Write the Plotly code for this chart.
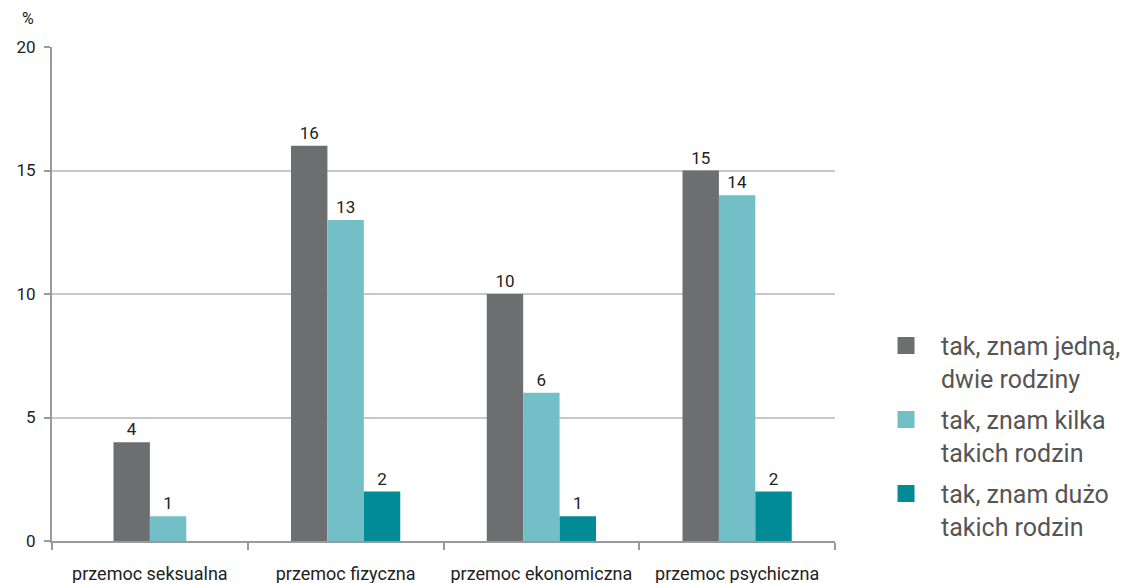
import plotly.graph_objects as go

categories = ["przemoc seksualna", "przemoc fizyczna", "przemoc ekonomiczna", "przemoc psychiczna"]
series_names = ["tak, znam jedną,<br>dwie rodziny", "tak, znam kilka<br>takich rodzin", "tak, znam dużo<br>takich rodzin"]
series_values = [
    [4, 16, 10, 15],
    [1, 13, 6, 14],
    [None, 2, 1, 2],
]
series_colors = ["#6d6e70", "#73bfc7", "#008b96"]
y_ticks = [0, 5, 10, 15, 20]

FONT = "Roboto"
BAR_W = 0.186

fig = go.Figure()

# offsets: bars within each category are centred on the present (non-empty) series
n_present = [sum(1 for s in series_values if s[i] is not None) for i in range(len(categories))]
for si, (name, vals, col) in enumerate(zip(series_names, series_values, series_colors)):
    offsets = []
    for ci in range(len(categories)):
        k = sum(1 for sj in range(si) if series_values[sj][ci] is not None)
        offsets.append(-n_present[ci] * BAR_W / 2 + k * BAR_W)
    fig.add_trace(go.Bar(
        x=categories, y=vals, name=name, marker=dict(color=col, line=dict(width=0)),
        width=BAR_W, offset=offsets,
        text=[("" if v is None else str(v)) for v in vals], textposition="outside",
        textfont=dict(family=FONT, size=17, color="#222222"), cliponaxis=False,
        showlegend=False, hoverinfo="skip",
    ))
    # legend-only entry
    fig.add_trace(go.Bar(
        x=[None], y=[None], name=name, legendgroup=str(si),
        marker=dict(color=col, line=dict(color=col, width=8)), showlegend=True,
    ))

fig.update_layout(
    width=1134, height=583, barmode="overlay",
    margin=dict(l=52, r=299, t=47, b=42, autoexpand=False),
    plot_bgcolor="white", paper_bgcolor="white",
    font=dict(family=FONT, size=17, color="#333333"),
    legend=dict(x=1.046, y=0.442, xanchor="left", yanchor="top", itemwidth=60, valign="top",
                font=dict(family=FONT, size=25, color="#555555"),
                tracegroupgap=6, traceorder="grouped"),
    xaxis=dict(type="category", showgrid=False, showline=True, linecolor="#9a9a9a", linewidth=2,
               ticks="outside", tickson="boundaries", ticklen=7, tickwidth=2, tickcolor="#9a9a9a",
               ticklabelstandoff=15, automargin=False,
               tickfont=dict(size=18, color="#222222"), range=[-0.5, 3.5]),
    yaxis=dict(range=[0, 20], tickvals=y_ticks, showgrid=True, gridcolor="#c8c8c8", gridwidth=2,
               showline=True, linecolor="#9a9a9a", linewidth=2, zeroline=False,
               ticks="outside", ticklen=6, tickwidth=2, tickcolor="#9a9a9a",
               ticklabelstandoff=5, automargin=False,
               tickfont=dict(size=17, color="#222222")),
    annotations=[dict(text="%", xref="paper", yref="paper", x=0, y=1, xanchor="center", yanchor="bottom",
                      xshift=-24, yshift=17, showarrow=False, font=dict(size=16, color="#222222"))],
)

fig.write_html("out.html")
